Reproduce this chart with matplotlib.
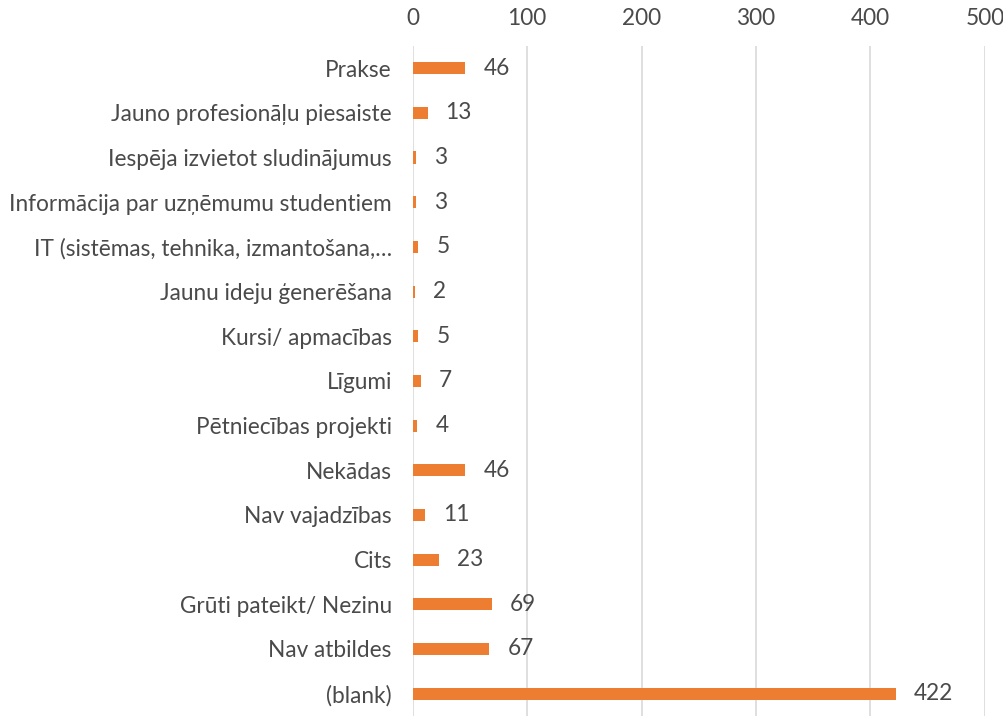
import matplotlib.pyplot as plt

categories = [
    "Prakse",
    "Jauno profesionāļu piesaiste",
    "Iespēja izvietot sludinājumus",
    "Informācija par uzņēmumu studentiem",
    "IT (sistēmas, tehnika, izmantošana,…",
    "Jaunu ideju ģenerēšana",
    "Kursi/ apmacības",
    "Līgumi",
    "Pētniecības projekti",
    "Nekādas",
    "Nav vajadzības",
    "Cits",
    "Grūti pateikt/ Nezinu",
    "Nav atbildes",
    "(blank)",
]
values = [46, 13, 3, 3, 5, 2, 5, 7, 4, 46, 11, 23, 69, 67, 422]
xticks = [0, 100, 200, 300, 400, 500]

plt.rcParams['font.family'] = ['Lato', 'DejaVu Sans']
txt_color = "#4a4a4a"

fig = plt.figure(figsize=(10.04, 7.16), dpi=100)
ax = fig.add_axes([0.411, 0.0, 0.57, 0.936])

pos = list(range(len(categories)))
ax.barh(pos, values, height=0.27, color="#ED7D31", zorder=3)
for p, v in zip(pos, values):
    ax.annotate(str(v), (v, p), xytext=(13, 0), textcoords="offset points",
                va="center", ha="left", fontsize=16.3, color=txt_color)

ax.set_ylim(len(categories) - 0.5, -0.5)
ax.set_xlim(0, 500)
ax.set_yticks(pos)
ax.set_yticklabels(categories, fontsize=16.3, color=txt_color)
ax.set_xticks(xticks)
ax.set_xticklabels([str(t) for t in xticks], fontsize=16.3, color=txt_color)
ax.xaxis.tick_top()
ax.tick_params(axis="both", length=0)
ax.tick_params(axis="y", pad=15)
ax.tick_params(axis="x", pad=12)
ax.grid(axis="x", color="#D9D9D9", linewidth=1.2, zorder=0)
for s in ax.spines.values():
    s.set_visible(False)

fig.savefig("out.png", dpi=100)
